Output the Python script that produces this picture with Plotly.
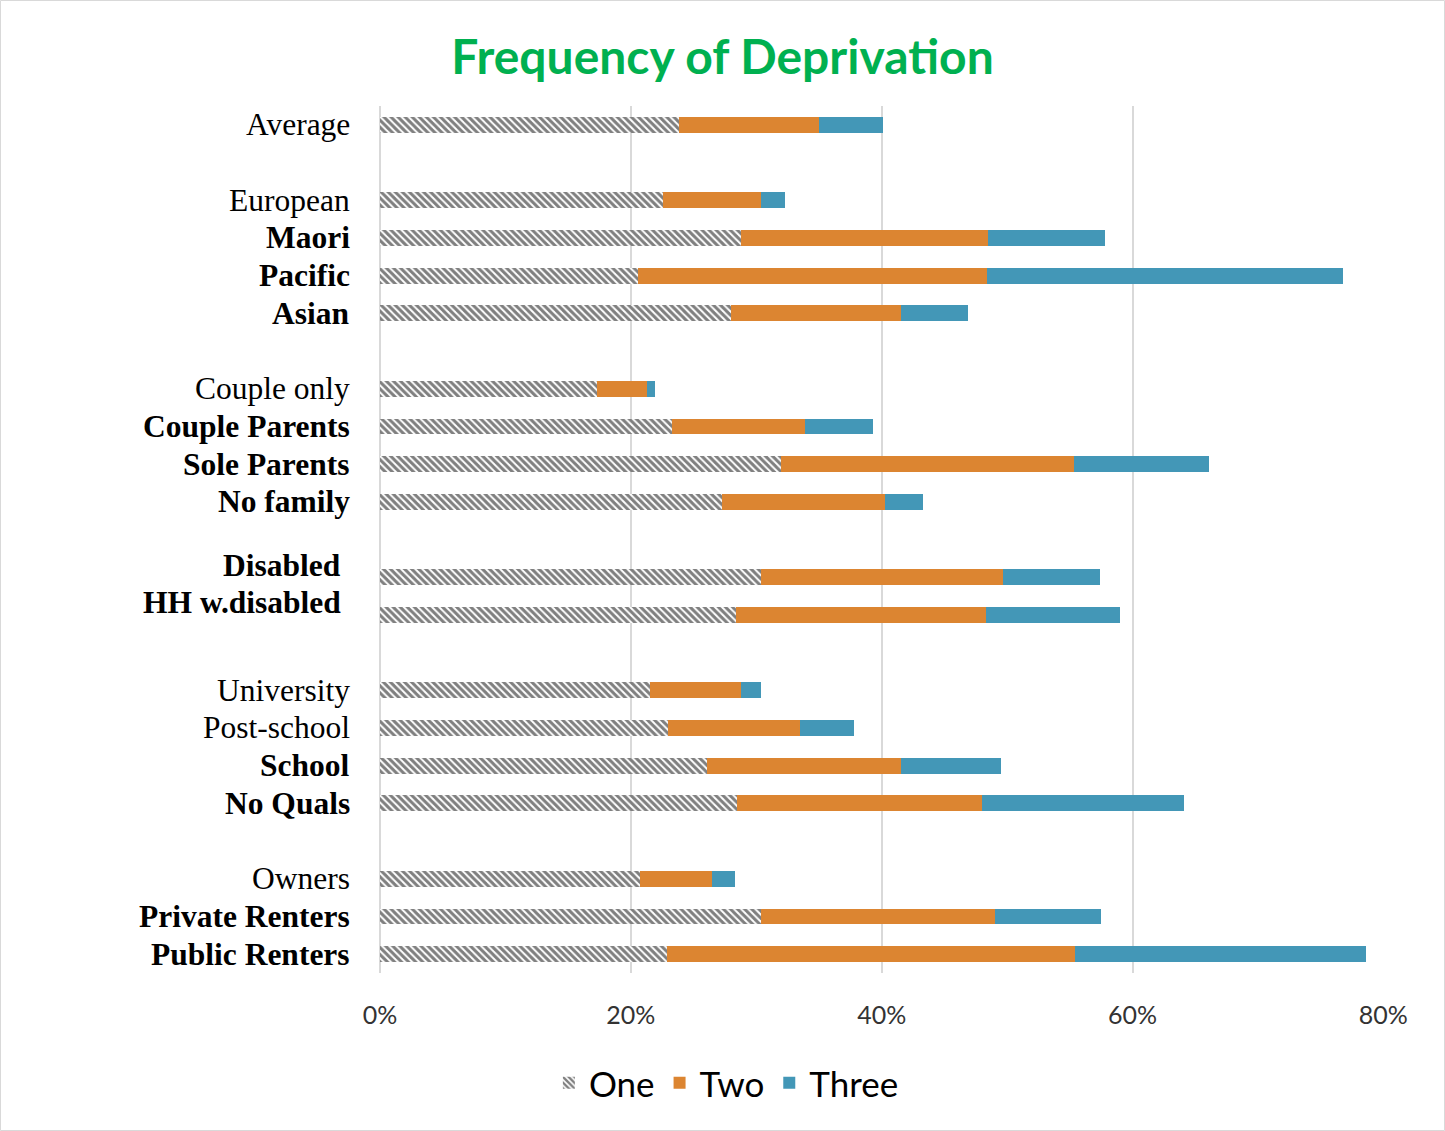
import plotly.graph_objects as go

groups = [
    ["Average"],
    ["European", "Maori", "Pacific", "Asian"],
    ["Couple only", "Couple Parents", "Sole Parents", "No family"],
    ["Disabled", "HH w.disabled"],
    ["University", "Post-school", "School", "No Quals"],
    ["Owners", "Private Renters", "Public Renters"],
]
bold_labels = ["Maori", "Pacific", "Asian", "Couple Parents", "Sole Parents", "No family",
               "Disabled", "HH w.disabled", "School", "No Quals", "Private Renters", "Public Renters"]

one = [23.8, 22.6, 28.8, 20.6, 28.0, 17.3, 23.3, 32.0, 27.3, 30.4, 28.4, 21.5, 23.0, 26.1, 28.5, 20.7, 30.4, 22.9]
two = [11.2, 7.8, 19.7, 27.8, 13.5, 4.0, 10.6, 23.3, 13.0, 19.3, 19.9, 7.3, 10.5, 15.4, 19.5, 5.8, 18.6, 32.5]
three = [5.1, 1.9, 9.3, 28.4, 5.4, 0.6, 5.4, 10.8, 3.0, 7.7, 10.7, 1.6, 4.3, 8.0, 16.1, 1.8, 8.5, 23.2]

x_ticks = [0, 20, 40, 60, 80]
x_tick_text = ["0%", "20%", "40%", "60%", "80%"]

# compute slot positions (one blank slot between groups)
cats, pos = [], []
p = 0
for g in groups:
    for c in g:
        cats.append(c)
        pos.append(p)
        p += 1
    p += 1
last = pos[-1]

fig = go.Figure()
fig.add_trace(go.Bar(
    y=pos, x=one, name="One", orientation="h", width=0.42,
    marker=dict(color="white", line=dict(width=0),
                pattern=dict(shape="\\", fgcolor="black", bgcolor="white", size=5, solidity=0.6)),
))
fig.add_trace(go.Bar(
    y=pos, x=two, name="Two", orientation="h", width=0.42,
    marker=dict(color="#DC8531", line=dict(width=0)),
))
fig.add_trace(go.Bar(
    y=pos, x=three, name="Three", orientation="h", width=0.42,
    marker=dict(color="#4397B7", line=dict(width=0)),
))

annotations = []
shifted = {"Disabled": (-0.32, -9), "HH w.disabled": (-0.32, -9)}
for c, y in zip(cats, pos):
    dy, dx = shifted.get(c, (0, 0))
    txt = f"<b>{c}</b>" if c in bold_labels else c
    annotations.append(dict(
        x=0, xref="paper", y=y + dy, yref="y", text=txt, showarrow=False,
        xanchor="right", yanchor="middle", xshift=-28 + dx,
        font=dict(family="Liberation Serif", size=31.5, color="black"),
    ))

fig.update_layout(
    width=1445, height=1131,
    paper_bgcolor="white", plot_bgcolor="white",
    margin=dict(l=380, r=61, t=106, b=158),
    barmode="stack",
    title=dict(text="<b>Frequency of Deprivation</b>", x=0.5, xanchor="center", xref="container",
               y=1 - 57 / 1131, yanchor="middle", yref="container",
               font=dict(family="Lato", size=48, color="#00B050")),
    xaxis=dict(range=[0, 80.05], tickmode="array", tickvals=x_ticks, ticktext=x_tick_text,
               showgrid=True, gridcolor="#D9D9D9", gridwidth=2, zeroline=True,
               zerolinecolor="#D9D9D9", zerolinewidth=2, showline=False, ticks="",
               ticklabelstandoff=25,
               tickfont=dict(family="Lato", size=25, color="#333333")),
    yaxis=dict(range=[last + 0.5, -0.5], showticklabels=False, showgrid=False,
               zeroline=False, ticks=""),
    legend=dict(orientation="h", x=0.345, xanchor="center", y=-0.127, yanchor="middle",
                font=dict(family="Lato", size=35, color="black"), traceorder="normal",
                itemwidth=30),
    annotations=annotations,
    showlegend=True,
)
fig.add_shape(type="rect", xref="paper", yref="paper",
              x0=(0.5 - 380) / 1004, x1=(1444.5 - 380) / 1004,
              y0=(973 - 1130.5) / 867, y1=(973 - 0.5) / 867,
              line=dict(color="#D9D9D9", width=1), layer="below")
fig.write_html("out.html", config={"displayModeBar": False},
               post_script="document.body.style.margin='0';")
